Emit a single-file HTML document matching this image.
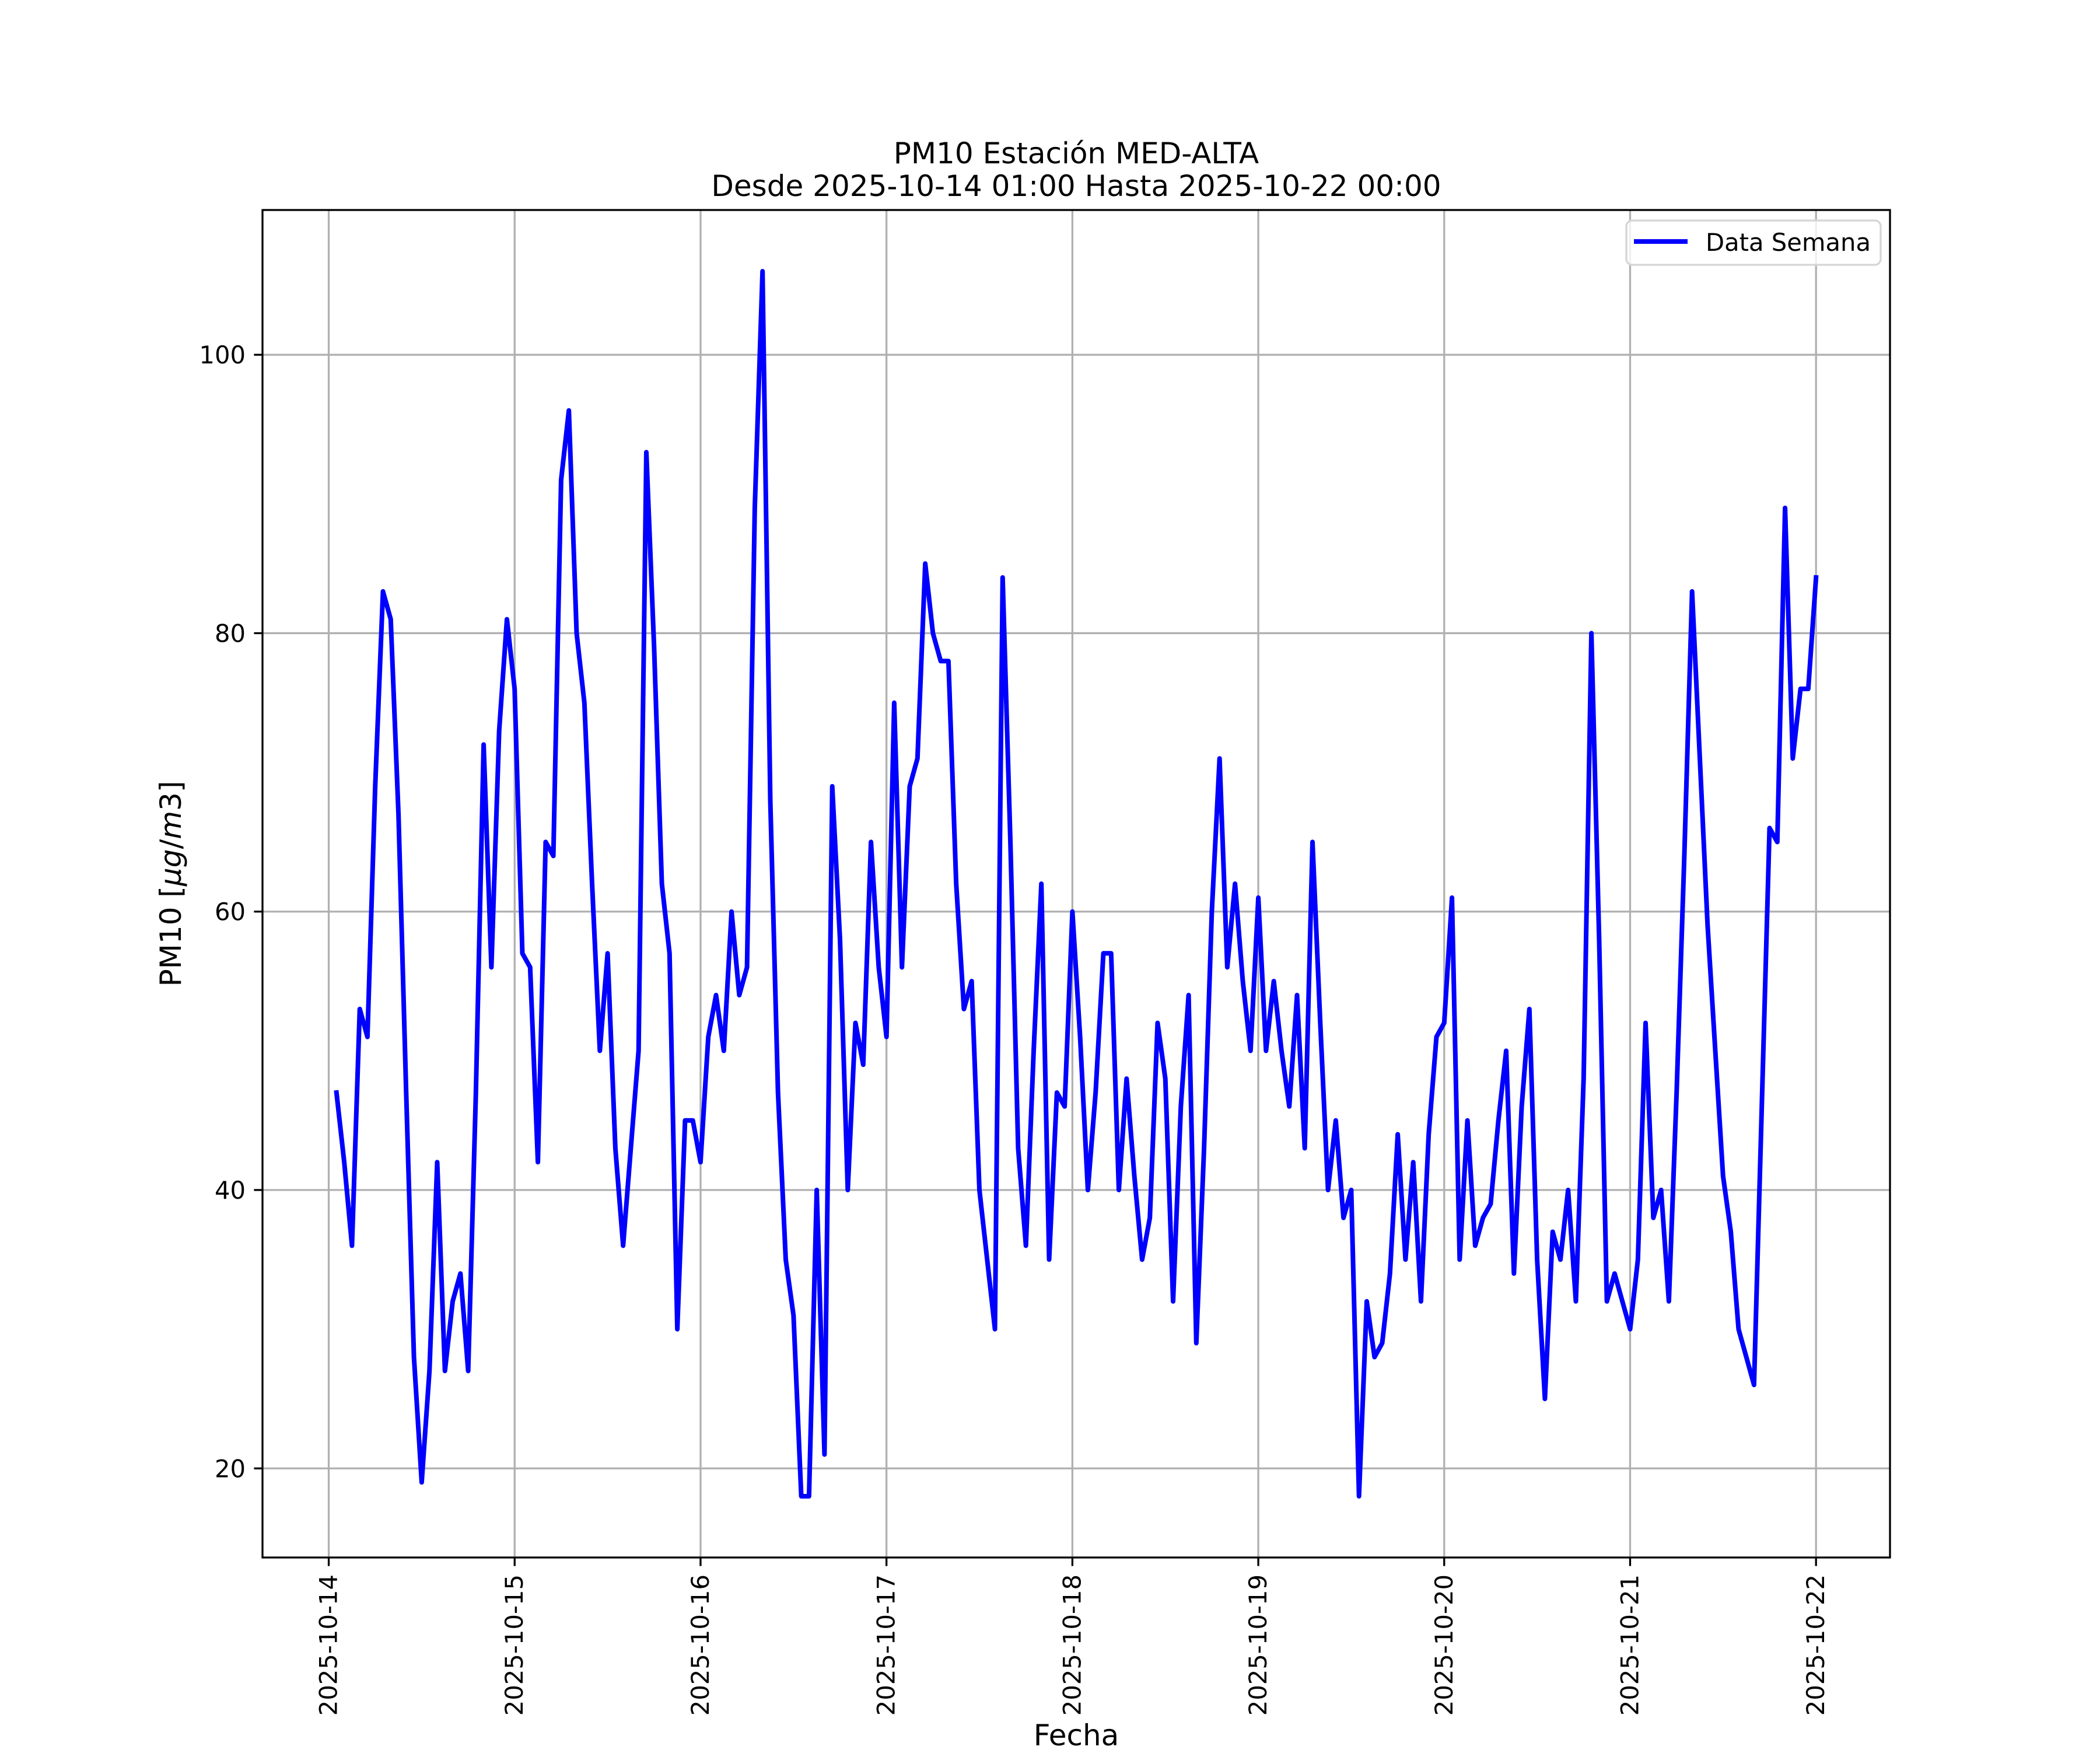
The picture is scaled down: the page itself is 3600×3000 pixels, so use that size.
<!DOCTYPE html>
<html><head><meta charset="utf-8"><style>
html,body{margin:0;padding:0;background:#fff;}
svg{display:block;font-family:"DejaVu Sans","Liberation Sans",sans-serif;}
</style></head><body>
<svg id="chart" width="3600" height="3000" viewBox="0 0 3600 3000" xmlns="http://www.w3.org/2000/svg">
<rect width="3600" height="3000" fill="#fff"/>
<g id="grid"></g>
<g id="series"></g>
<g id="axes"></g>
<text x="1845" y="280" font-size="50" text-anchor="middle">PM10 Estación MED-ALTA</text>
<text x="1845" y="336" font-size="50" text-anchor="middle">Desde 2025-10-14 01:00 Hasta 2025-10-22 00:00</text>
<text x="1845" y="2992" font-size="50" text-anchor="middle">Fecha</text>
<text transform="translate(310,1515) rotate(-90)" font-size="50" text-anchor="middle">PM10 [<tspan font-style="italic">μg</tspan>/<tspan font-style="italic">m</tspan>3]</text>
<g>
<rect x="2788" y="378" width="436" height="76" rx="10" fill="#fff" fill-opacity="0.8" stroke="#d5d5d5" stroke-width="3.3"/>
<line x1="2801" y1="414" x2="2893" y2="414" stroke="#0000ff" stroke-width="8"/>
<text x="2924" y="430" font-size="41.7">Data Semana</text>
</g>
</svg>
<script>
const dayLabels = ["2025-10-14","2025-10-15","2025-10-16","2025-10-17","2025-10-18","2025-10-19","2025-10-20","2025-10-21","2025-10-22"];
const yTicks = [20,40,60,80,100];
const pm10 = [47,42,36,53,51,69,83,81,67,47,28,19,27,42,27,32,34,27,47,72,56,73,81,76,
57,56,42,65,64,91,96,80,75,62,50,57,43,36,43,50,93,79,62,57,30,45,45,42,
51,54,50,60,54,56,89,106,68,47,35,31,18,18,40,21,69,58,40,52,49,65,56,51,
75,56,69,71,85,80,78,78,62,53,55,40,35,30,84,65,43,36,50,62,35,47,46,60,
51,40,47,57,57,40,48,41,35,38,52,48,32,46,54,29,43,60,71,56,62,55,50,61,
50,55,50,46,54,43,65,52,40,45,38,40,18,32,28,29,34,44,35,42,32,44,51,52,
61,35,45,36,38,39,45,50,34,46,53,35,25,37,35,40,32,48,80,58,32,34,32,30,
35,52,38,40,32,47,64,83,71,59,50,41,37,30,28,26,46,66,65,89,71,76,76,84];
const hours = pm10.map((v,i)=>i+1);

const NS="http://www.w3.org/2000/svg";
const L=450,R=3240,T=360,B=2670;
const hMin=Math.min(...hours), hMax=Math.max(...hours);
const xm=(hMax-hMin)*0.05, x0=hMin-xm, x1=hMax+xm;
const vMin=Math.min(...pm10), vMax=Math.max(...pm10);
const ym=(vMax-vMin)*0.05, y0=vMin-ym, y1=vMax+ym;
const xs=h=>L+(h-x0)/(x1-x0)*(R-L);
const ys=v=>B-(v-y0)/(y1-y0)*(B-T);
function mk(tag,attrs,parent){const e=document.createElementNS(NS,tag);for(const k in attrs)e.setAttribute(k,attrs[k]);parent.appendChild(e);return e;}
const grid=document.getElementById('grid'),axes=document.getElementById('axes'),series=document.getElementById('series');

dayLabels.forEach((d,i)=>{
  const x=xs(i*24);
  const g=mk('line',{x1:x,y1:T,x2:x,y2:B,stroke:'#b0b0b0','stroke-width':3.3},grid);
  
  
  const t=mk('line',{x1:x,y1:B,x2:x,y2:B+14.6,stroke:'#000','stroke-width':3.3},axes);
  
  
  const tx=mk('text',{transform:`translate(${x+14},${B+29}) rotate(-90)`,'font-size':41.7,'text-anchor':'end'},axes);
  tx.textContent=d;
  
  
});
yTicks.forEach(v=>{
  const y=ys(v);
  const g=mk('line',{x1:L,y1:y,x2:R,y2:y,stroke:'#b0b0b0','stroke-width':3.3},grid);
  
  
  const t=mk('line',{x1:L-14.6,y1:y,x2:L,y2:y,stroke:'#000','stroke-width':3.3},axes);
  
  
  const tx=mk('text',{x:L-29,y:y+15,'font-size':41.7,'text-anchor':'end'},axes);
  tx.textContent=v;
  
  
});
const frame=mk('rect',{x:L,y:T,width:R-L,height:B-T,fill:'none',stroke:'#000','stroke-width':3.3},axes);


const pts=pm10.map((v,i)=>xs(hours[i]).toFixed(1)+','+ys(v).toFixed(1)).join(' ');
const line=mk('polyline',{points:pts,fill:'none',stroke:'#0000ff','stroke-width':8,'stroke-linejoin':'round','stroke-linecap':'square'},series);


</script>
</body></html>
